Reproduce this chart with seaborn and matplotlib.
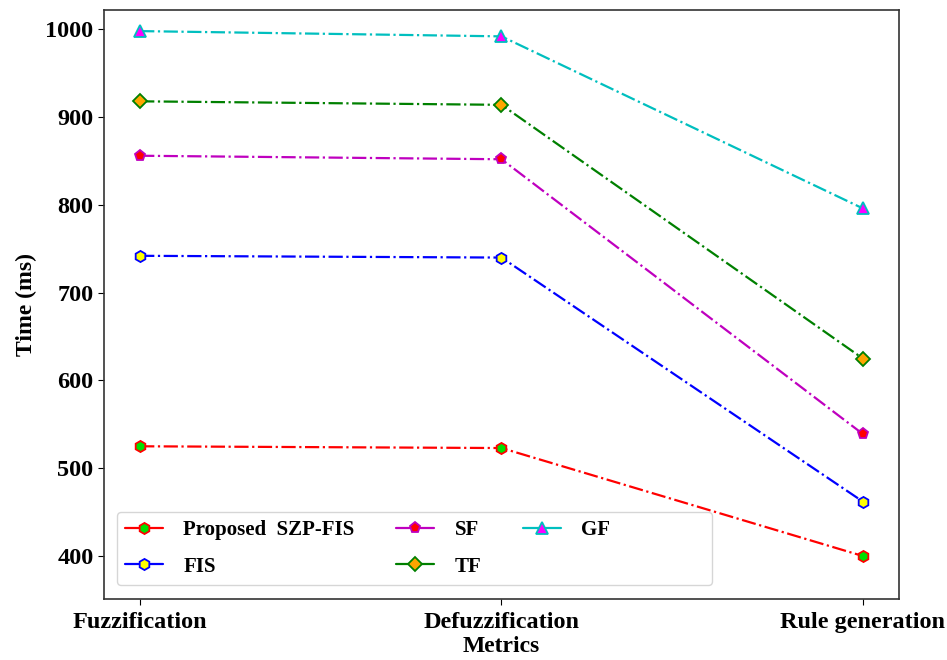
import pandas as pd
import seaborn as sns
import matplotlib.pyplot as plt

# Data
metrics = ['Fuzzification', 'Defuzzification', 'Rule generation']
proposed = [525, 523, 400]
fis = [742, 740, 462]
sf = [856, 852, 539]
tf = [918, 914, 625]
gf = [998, 992, 796]

# the original legend has a wide empty area after "GF"
series_names = ['Proposed  SZP-FIS', 'FIS', 'SF', 'TF', 'GF' + ' ' * 18]
series_vals = [proposed, fis, sf, tf, gf]

# line colour, marker, marker face, marker edge
styles = [
    ('red', 'h', '#00e000', 'red'),
    ('blue', 'h', 'yellow', 'blue'),
    ('m', 'p', 'red', 'm'),
    ('green', 'D', 'orange', 'green'),
    ('c', '^', 'magenta', 'c'),
]

sns.set_style('ticks')
plt.rcParams['font.family'] = ['Liberation Serif', 'DejaVu Serif']
plt.rcParams['font.weight'] = 'bold'
plt.rcParams['text.color'] = 'black'
plt.rcParams['axes.labelcolor'] = 'black'
plt.rcParams['xtick.color'] = 'black'
plt.rcParams['ytick.color'] = 'black'

fig = plt.figure(figsize=(9.47, 6.6), dpi=100)
ax = fig.add_axes([0.1098, 0.0924, 0.8395, 0.8924])

for name, vals, (col, mk, fc, ec) in zip(series_names, series_vals, styles):
    d = pd.DataFrame({'metric': metrics, 'time': vals})
    sns.lineplot(data=d, x='metric', y='time', ax=ax, color=col, linestyle='-.',
                 linewidth=1.6, marker=mk, markersize=8 if mk != 'D' else 7,
                 markerfacecolor=fc, markeredgecolor=ec, markeredgewidth=1.3,
                 label=name, sort=False)

ax.set_xlim(-0.1, 2.1)
ax.set_ylim(351, 1022)
ax.set_yticks([400, 500, 600, 700, 800, 900, 1000])
ax.tick_params(axis='both', labelsize=17.5, length=4)
ax.tick_params(axis='x', pad=5)
for lab in ax.get_xticklabels() + ax.get_yticklabels():
    lab.set_fontweight('bold')
ax.set_xlabel('Metrics', fontsize=17, fontweight='bold', labelpad=2.5)
ax.set_ylabel('Time (ms)', fontsize=17, fontweight='bold', labelpad=6)
for s in ax.spines.values():
    s.set_color('#333333')
    s.set_linewidth(1.2)

leg = ax.legend(ncol=3, loc='lower left', bbox_to_anchor=(0.016, 0.024), borderaxespad=0,
                prop={'size': 15, 'weight': 'bold'}, handlelength=1.8, handletextpad=1.0,
                columnspacing=2.0, labelspacing=0.8, frameon=True, edgecolor='#cccccc')
for ln in leg.get_lines():
    ln.set_linestyle('-')

fig.savefig('out.png', dpi=100)
